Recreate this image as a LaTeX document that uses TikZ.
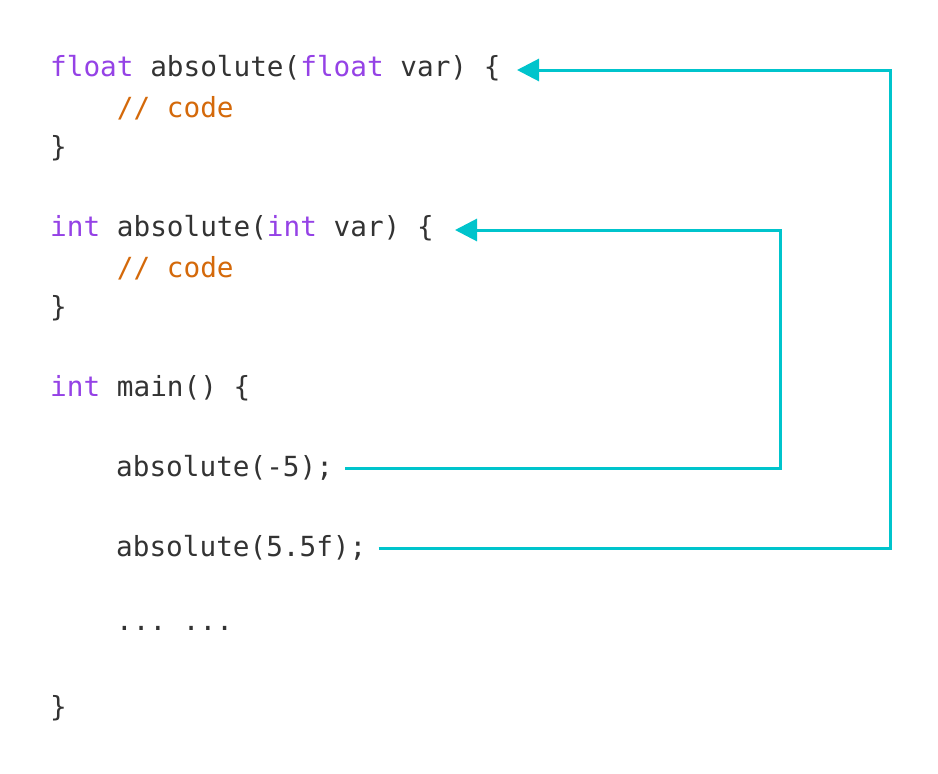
\documentclass[tikz,border=0pt]{standalone}
\usepackage{fontspec}
\setmonofont{DejaVu Sans Mono}
\usetikzlibrary{arrows.meta}
\definecolor{kw}{HTML}{9542E6}
\definecolor{cm}{HTML}{D4690A}
\definecolor{tx}{HTML}{333333}
\definecolor{ar}{HTML}{00C4CC}
\begin{document}
\begin{tikzpicture}[x=1pt,y=-1pt,
  code/.style={anchor=west,inner sep=0pt,text=tx,font=\ttfamily\fontsize{27.7}{30}\selectfont},
  arr/.style={draw=ar,line width=3pt,-{Triangle[length=22pt,width=22pt]}}]
\useasboundingbox[fill=white] (0,0) rectangle (938,774);
\newcommand\K[1]{\textcolor{kw}{#1}}
\node[code] (f1) at (50,68) {\K{float} absolute(\K{float} var) \{};
\node[code] (f1b) at (50,108) {\textcolor{cm}{\ \ \ \ // code}};
\node[code] (f1c) at (50,148) {\}};
\node[code] (f2) at (50,228) {\K{int} absolute(\K{int} var) \{};
\node[code] (f2b) at (50,268) {\textcolor{cm}{\ \ \ \ // code}};
\node[code] (f2c) at (50,308) {\}};
\node[code] (m) at (50,388) {\K{int} main() \{};
\node[code] (c1) at (116,468) {absolute(-5);};
\node[code] (c2) at (116,548) {absolute(5.5f);};
\node[code] (d) at (116,628) {... ...};
\node[code] (e) at (50,708) {\}};
\draw[arr] ([xshift=12pt]c1.east) -| (780,230) -- (455,230);
\draw[arr] ([xshift=12pt]c2.east) -| (890,70) -- (517,70);
\end{tikzpicture}
\end{document}
